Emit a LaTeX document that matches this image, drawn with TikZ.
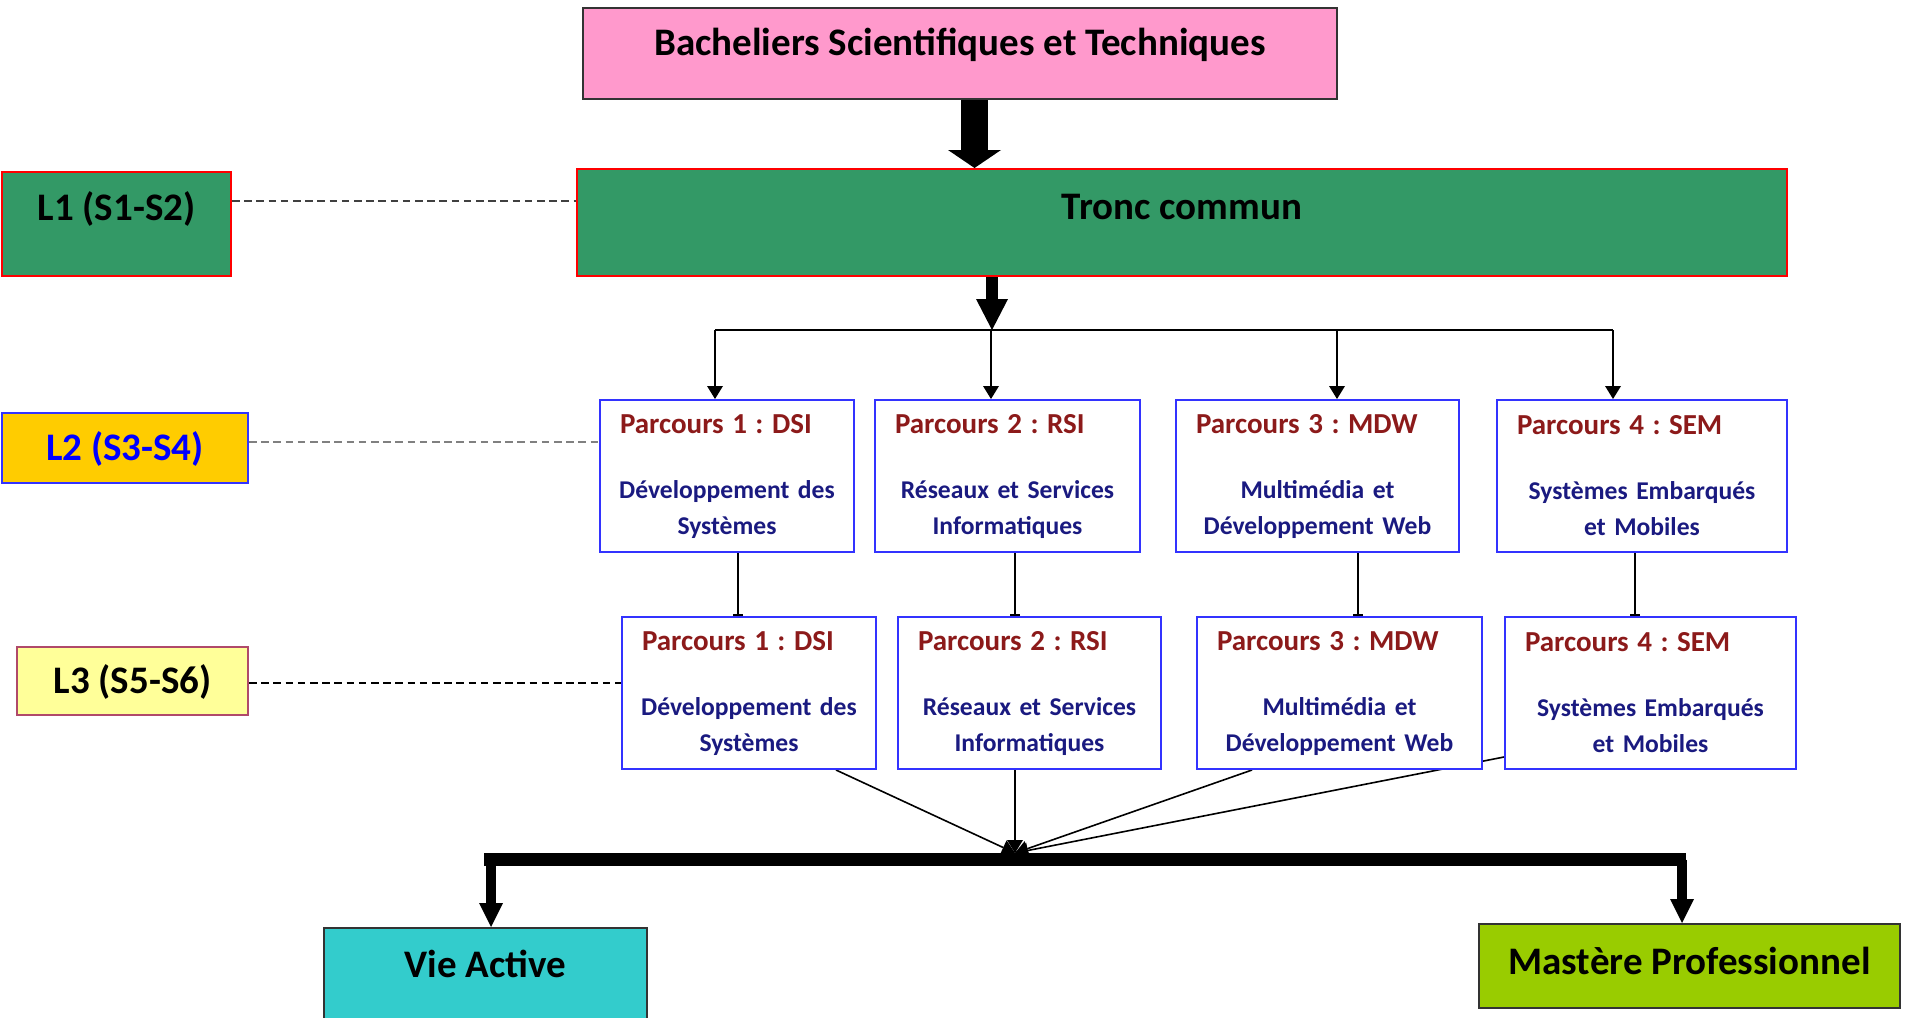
\documentclass[tikz,border=0pt]{standalone}
\usepackage{fontspec}
\setmainfont{Carlito}
\usetikzlibrary{arrows.meta}
\usetikzlibrary{backgrounds}
\frenchspacing

\definecolor{rose}{HTML}{FF99CC}
\definecolor{vertfonce}{HTML}{339966}
\definecolor{jauneor}{HTML}{FFCC00}
\definecolor{jaunepale}{HTML}{FFFF99}
\definecolor{turquoise}{HTML}{33CCCC}
\definecolor{vertclair}{HTML}{99CC00}
\definecolor{bleubord}{HTML}{3333FF}
\definecolor{rougetitre}{HTML}{8C1A1A}
\definecolor{bleutexte}{HTML}{1A1A80}
\definecolor{bordlt}{HTML}{B04A6A}

\newcommand{\titre}[1]{\makebox[\linewidth][l]{\hspace{10pt}{\fontsize{14.5}{18}\selectfont\color{rougetitre}#1}}}

\begin{document}
\begin{tikzpicture}[x=0.5pt,y=-0.5pt,
  grand/.style={rectangle,inner sep=0pt,line width=1pt,font=\fontsize{19.5}{22}\selectfont\bfseries,text height=14pt},
  parcours/.style={rectangle,draw=bleubord,fill=white,line width=1pt,inner sep=0pt,minimum height=76pt,align=center,font=\fontsize{12.8}{18}\selectfont\bfseries,text=bleutexte},
  fin/.style={line width=0.8pt},
  fleche/.style={-{Triangle[width=8pt,length=6.5pt,line width=0pt]},line width=0.8pt},
  pointille/.style={dash pattern=on 3.8pt off 2.3pt,line width=0.8pt}]

\useasboundingbox (0,0) rectangle (1905,1017);

% boites du haut
\node[grand,draw=black!80,fill=rose,minimum width=377pt,minimum height=45.5pt,text depth=11.9pt] (bac) at (960,53.5) {Bacheliers Scientifiques et Techniques};
\node[grand,draw=red,fill=vertfonce,minimum width=605pt,minimum height=53.5pt,text depth=16.9pt] (tronc) at (1182,222.5) {Tronc commun};

% niveaux
\node[grand,draw=red,fill=vertfonce,minimum width=114.5pt,minimum height=52pt,text depth=17.4pt] (l1) at (116.5,224) {L1 (S1-S2)};
\node[grand,draw=bleubord,fill=jauneor,text=blue,minimum width=123pt,minimum height=35pt,text depth=1.4pt] (l2) at (125,448) {L2 (S3-S4)};
\node[grand,draw=bordlt,fill=jaunepale,minimum width=115.5pt,minimum height=34pt,text depth=1.4pt] (l3) at (132.5,681) {L3 (S5-S6)};

% parcours L2
\node[parcours,text width=127pt] (a1) at (727,476) {\titre{Parcours 1 : DSI}\\[14.5pt]Développement des\\Systèmes};
\node[parcours,text width=132.5pt] (a2) at (1007.5,476) {\titre{Parcours 2 : RSI}\\[14.5pt]Réseaux et Services\\Informatiques};
\node[parcours,text width=141.5pt] (a3) at (1317.5,476) {\titre{Parcours 3 : MDW}\\[14.5pt]Multimédia et\\Développement Web};
\node[parcours,text width=145pt] (a4) at (1642,476) {\titre{Parcours 4 : SEM}\\[14.5pt]Systèmes Embarqués\\et Mobiles};

% parcours L3
\node[parcours,text width=127pt] (b1) at (749,693) {\titre{Parcours 1 : DSI}\\[14.5pt]Développement des\\Systèmes};
\node[parcours,text width=131.5pt] (b2) at (1029.5,693) {\titre{Parcours 2 : RSI}\\[14.5pt]Réseaux et Services\\Informatiques};
\node[parcours,text width=142.5pt] (b3) at (1339.5,693) {\titre{Parcours 3 : MDW}\\[14.5pt]Multimédia et\\Développement Web};
\node[parcours,text width=145.5pt] (b4) at (1650.5,693) {\titre{Parcours 4 : SEM}\\[14.5pt]Systèmes Embarqués\\et Mobiles};

% sorties
\node[grand,draw=black!80,fill=turquoise,minimum width=161.5pt,minimum height=46pt,text depth=10.4pt] (vie) at (485.5,974) {Vie Active};
\node[grand,draw=black!80,fill=vertclair,minimum width=210.5pt,minimum height=42pt,text depth=5.4pt] (master) at (1689.5,966) {Mastère Professionnel};

% points de passage
\coordinate (n0) at (992,330);
\coordinate (n1) at (715,330);
\coordinate (n2) at (991,330);
\coordinate (n3) at (1337,330);
\coordinate (n4) at (1613,330);
\coordinate (t1) at (738,0);
\coordinate (t2) at (1015,0);
\coordinate (t3) at (1358,0);
\coordinate (t4) at (1635,0);
\coordinate (conv) at (1015,853);
\coordinate (barg) at (484,859.5);
\coordinate (bard) at (1686,859.5);
\coordinate (sg) at (491,859.5);
\coordinate (sd) at (1682,859.5);

\begin{scope}[on background layer]
\draw[pointille,black!75] ([yshift=11.5pt]l1.east) -- ([yshift=11.5pt]l1.east -| tronc.west);
\draw[pointille,gray,line width=1.2pt] ([yshift=3pt]l2.east) -- ([yshift=3pt]l2.east -| a1.west);
\draw[pointille] ([yshift=-1pt]l3.east) -- ([yshift=-1pt]l3.east -| b1.west);
\draw[line width=13.5pt,-{Triangle[width=26.5pt,length=9pt,line width=0pt]}] ([xshift=7.25pt]bac.south) -- ([xshift=7.25pt]bac.south |- tronc.north);
\draw[line width=6pt,-{Triangle[width=16pt,length=15.5pt,line width=0pt]}] (tronc.south -| n0) -- (n0);
\draw[fin] (n1) -- (n4);
\draw[fleche] (n1) -- (n1 |- a1.north);
\draw[fleche] (n2) -- (n2 |- a2.north);
\draw[fleche] (n3) -- (n3 |- a3.north);
\draw[fleche] (n4) -- (n4 |- a4.north);
\draw[fin,-{Bar[width=5pt]}] (a1.south -| t1) -- (b1.north -| t1);
\draw[fin,-{Bar[width=5pt]}] (a2.south -| t2) -- (b2.north -| t2);
\draw[fin,-{Bar[width=5pt]}] (a3.south -| t3) -- (b3.north -| t3);
\draw[fin,-{Bar[width=5pt]}] (a4.south -| t4) -- (b4.north -| t4);
\draw[fleche] ([xshift=-20.5pt]b1.south east) -- (conv);
\draw[fleche] (b2.south -| conv) -- (conv);
\draw[fleche] ([xshift=28pt]b3.south west) -- (conv);
\draw[fleche] ([yshift=6.5pt]b4.south west) -- (conv);
\end{scope}

% barre du bas
\draw[line width=6.5pt] (barg) -- (bard);
\draw[line width=5pt,-{Triangle[width=12pt,length=12pt,line width=0pt]}] (sg) -- (sg |- vie.north);
\draw[line width=5pt,-{Triangle[width=12pt,length=12pt,line width=0pt]}] (sd) -- (sd |- master.north);
\end{tikzpicture}
\end{document}
